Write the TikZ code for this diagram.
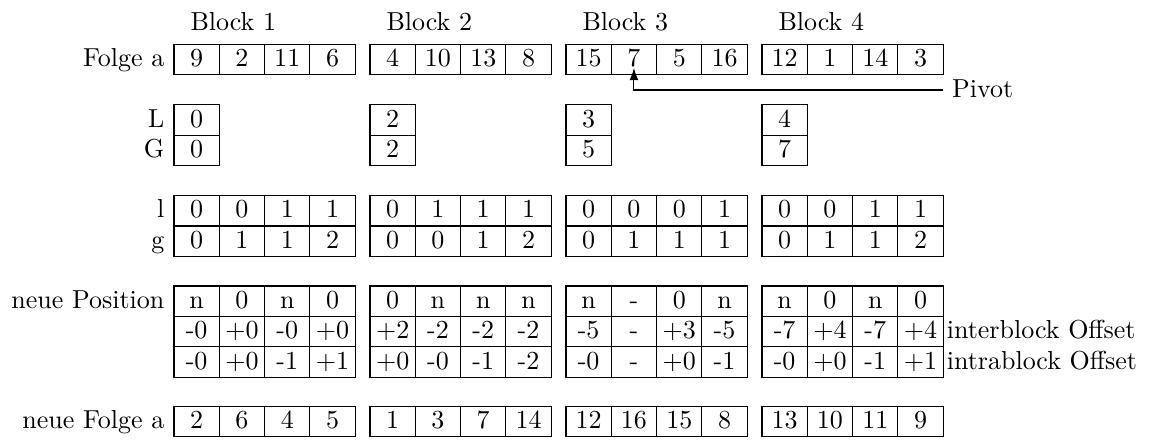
\documentclass[tikz,border=0pt]{standalone}
\usetikzlibrary{arrows.meta}
\begin{document}
\begin{tikzpicture}[x=0.3846pt,y=-0.3846pt,
  cell/.style={draw,rectangle,minimum width=17.42pt,minimum height=11.7pt,inner sep=0pt,text height=1.5ex,text depth=.25ex},
  lab/.style={text height=1.5ex,text depth=.25ex},
  blk/.style={anchor=base west,inner sep=0pt}]
\useasboundingbox (0,0) rectangle (1150,439);
% block titles
\foreach \b in {1,2,3,4}{
  \node[blk] (title-\b) at ({174+196*(\b-1)+16},30.7) {Block \b};
}
% generic rows: name/y/values
\foreach \r/\y/\vals in {
  fa/59.7/{{9,2,11,6},{4,10,13,8},{15,7,5,16},{12,1,14,3}},
  l/210.8/{{0,0,1,1},{0,1,1,1},{0,0,0,1},{0,0,1,1}},
  g/241/{{0,1,1,2},{0,0,1,2},{0,1,1,1},{0,1,1,2}},
  np/301.2/{{n,0,n,0},{0,n,n,n},{n,-,0,n},{n,0,n,0}},
  ib/331.7/{{-0,+0,-0,+0},{+2,-2,-2,-2},{-5,-,+3,-5},{-7,+4,-7,+4}},
  ab/362/{{-0,+0,-1,+1},{+0,-0,-1,-2},{-0,-,+0,-1},{-0,+0,-1,+1}},
  nf/421.4/{{2,6,4,5},{1,3,7,14},{12,16,15,8},{13,10,11,9}}}{
  \foreach \blkvals [count=\b] in \vals {
    \foreach \v [count=\c] in \blkvals {
      \node[cell] (\r-\b-\c) at ({174+196*(\b-1)+45.3*(\c-0.5)},\y) {\v};
    }
  }
}
% L / G boxes
\foreach \L/\G [count=\b] in {0/0,2/2,3/5,4/7}{
  \node[cell] (L-\b) at ({174+196*(\b-1)+22.65},120) {\L};
  \node[cell] (G-\b) at ({174+196*(\b-1)+22.65},150.3) {\G};
}
% left labels
\node[lab,anchor=east] (t-fa) at (fa-1-1.west) {Folge a};
\node[lab,anchor=east] (t-L) at (L-1.west) {L};
\node[lab,anchor=east] (t-G) at (G-1.west) {G};
\node[lab,anchor=east] (t-l) at (l-1-1.west) {l};
\node[lab,anchor=east] (t-g) at (g-1-1.west) {g};
\node[lab,anchor=east] (t-np) at (np-1-1.west) {neue Position};
\node[lab,anchor=east] (t-nf) at (nf-1-1.west) {neue Folge a};
% right labels
\node[lab,anchor=west,inner sep=1pt] (t-ib) at (ib-4-4.east) {interblock Offset};
\node[lab,anchor=west,inner sep=1pt] (t-ab) at (ab-4-4.east) {intrablock Offset};
% pivot
\coordinate (pv) at (943,90);
\draw[-{Latex[length=4.7pt,width=3.5pt]}] (pv) -| ([yshift=-3.2pt]fa-3-2.center);
\node[lab,anchor=west] (piv) at (pv) {Pivot};
\end{tikzpicture}
\end{document}
